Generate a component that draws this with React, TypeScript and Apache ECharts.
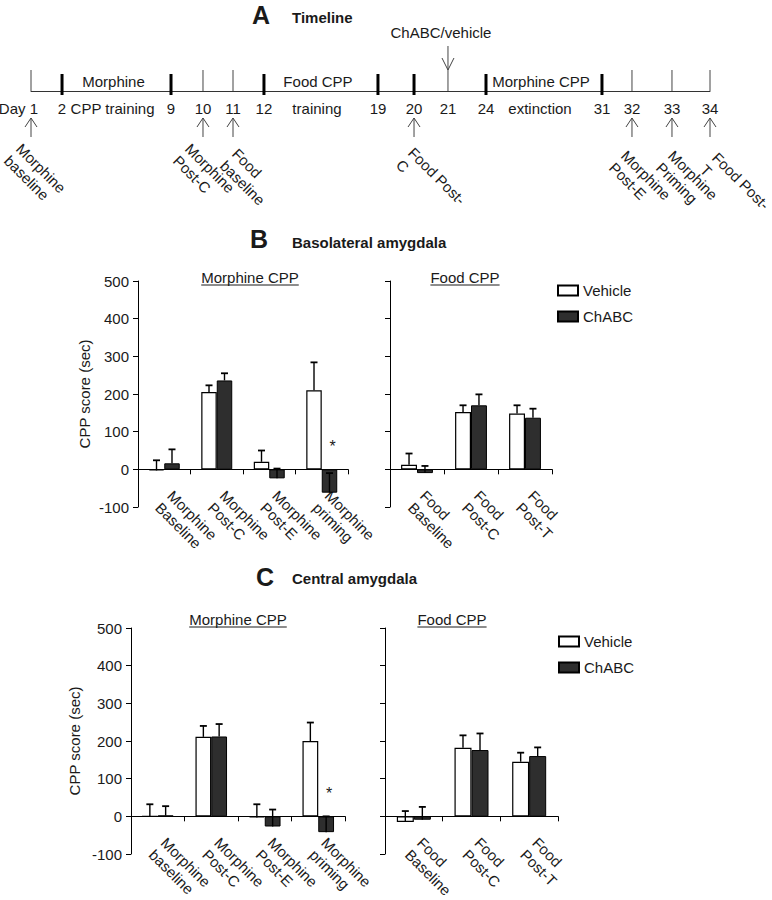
import React, { useEffect, useRef } from 'react';
import * as echarts from 'echarts';

const FONT = "'Liberation Sans', Arial, Helvetica, sans-serif";
const INK = '#1a1a1a';

// ---------------- Panel A: timeline ----------------
const tlDays = [1, 2, 9, 10, 11, 12, 19, 20, 21, 24, 31, 32, 33, 34];
// schematic position of each day along the drawn timeline (0 = day 1, 100 = day 34)
const tlPos = [0, 4.57, 20.62, 25.33, 29.75, 34.31, 51.1, 56.41, 61.41, 67.01, 84.09, 88.51, 94.4, 100];
const tlMajorDays = [2, 9, 12, 19, 20, 24, 31];
const tlTestDays = [1, 10, 11, 20, 32, 33, 34];
const tlTestLabels = [
  'Morphine\nbaseline',
  'Morphine\nPost-C',
  'Food\nbaseline',
  'Food Post-\nC',
  'Morphine\nPost-E',
  'Morphine\nPriming',
  'Food Post-\nT',
];
const tlInjectionDay = 21;
const tlInjectionLabel = 'ChABC/vehicle';
const tlPhaseStart = [2, 12, 24];
const tlPhaseEnd = [9, 19, 31];
const tlPhaseAbove = ['Morphine', 'Food CPP', 'Morphine CPP'];
const tlPhaseBelow = ['CPP training', 'training', 'extinction'];

// ---------------- Panel B: basolateral amygdala ----------------
const bMorphCats = ['Morphine\nBaseline', 'Morphine\nPost-C', 'Morphine\nPost-E', 'Morphine\npriming'];
const bMorphVehicle = [-3, 205, 20, 210];
const bMorphVehicleSem = [27, 18, 30, 74];
const bMorphChABC = [16, 236, -24, -62];
const bMorphChABCSem = [37, 19, 26, 52];
const bMorphSig = [null, null, null, 60];

const bFoodCats = ['Food\nBaseline', 'Food\nPost-C', 'Food\nPost-T'];
const bFoodVehicle = [12, 152, 148];
const bFoodVehicleSem = [30, 18, 22];
const bFoodChABC = [-10, 170, 137];
const bFoodChABCSem = [19, 29, 24];

// ---------------- Panel C: central amygdala ----------------
const cMorphCats = ['Morphine\nbaseline', 'Morphine\nPost-C', 'Morphine\nPost-E', 'Morphine\npriming'];
const cMorphVehicle = [0, 211, -3, 200];
const cMorphVehicleSem = [32, 29, 35, 49];
const cMorphChABC = [2, 212, -27, -42];
const cMorphChABCSem = [25, 33, 45, 42];
const cMorphSig = [null, null, null, 60];

const cFoodCats = ['Food\nBaseline', 'Food\nPost-C', 'Food\nPost-T'];
const cFoodVehicle = [-15, 182, 145];
const cFoodVehicleSem = [29, 33, 24];
const cFoodChABC = [-9, 176, 160];
const cFoodChABCSem = [34, 44, 23];

const groupNames = ['Vehicle', 'ChABC'];
const yMin = -100;
const yMax = 500;
const yStep = 100;
const yName = 'CPP score (sec)';

// ---------------- layout (not data) ----------------
const BAR_GAP = 0.41;
const EVENT_LABEL_OFFSET = [
  [-6, 49], [-9, 49], [8, 54], [3, 53], [-2, 56], [5, 56], [11, 58],
];

type Panel = {
  grid: any;
  cats: string[];
  veh: number[];
  vehSem: number[];
  cha: number[];
  chaSem: number[];
  sig: (number | null)[] | null;
  showY: boolean;
  nameGap: number;
};

const panels: Panel[] = [
  { grid: { left: 138, top: 281, width: 210, height: 226 }, cats: bMorphCats, veh: bMorphVehicle, vehSem: bMorphVehicleSem, cha: bMorphChABC, chaSem: bMorphChABCSem, sig: bMorphSig, showY: true, nameGap: 46 },
  { grid: { left: 390, top: 281, width: 162, height: 226 }, cats: bFoodCats, veh: bFoodVehicle, vehSem: bFoodVehicleSem, cha: bFoodChABC, chaSem: bFoodChABCSem, sig: null, showY: false, nameGap: 0 },
  { grid: { left: 131, top: 628, width: 214, height: 226 }, cats: cMorphCats, veh: cMorphVehicle, vehSem: cMorphVehicleSem, cha: cMorphChABC, chaSem: cMorphChABCSem, sig: cMorphSig, showY: true, nameGap: 49 },
  { grid: { left: 385, top: 628, width: 173, height: 226 }, cats: cFoodCats, veh: cFoodVehicle, vehSem: cFoodVehicleSem, cha: cFoodChABC, chaSem: cFoodChABCSem, sig: null, showY: false, nameGap: 0 },
];

const titles = [
  { text: 'Morphine CPP', x: 250, y: 277 },
  { text: 'Food CPP', x: 465, y: 277 },
  { text: 'Morphine CPP', x: 238, y: 619 },
  { text: 'Food CPP', x: 452, y: 619 },
];

function textEl(text: string, x: number, y: number, o: any = {}) {
  const align = o.align || 'center';
  const vAlign = o.vAlign || 'middle';
  return {
    type: 'text',
    x,
    y,
    rotation: o.rotation || 0,
    silent: true,
    style: {
      text,
      fill: INK,
      fontSize: o.size || 15,
      fontFamily: FONT,
      fontWeight: o.weight || 'normal',
      align,
      verticalAlign: vAlign,
      textAlign: align,
      textVerticalAlign: vAlign,
      lineHeight: 17,
    },
  };
}

function lineEl(x1: number, y1: number, x2: number, y2: number, w = 1, c = '#333') {
  return { type: 'line', silent: true, shape: { x1, y1, x2, y2 }, style: { stroke: c, lineWidth: w } };
}

function polyEl(points: number[][], w = 1, c = '#333') {
  return { type: 'polyline', silent: true, shape: { points }, style: { stroke: c, lineWidth: w, fill: null } };
}

function measure(text: string, font: string) {
  const ctx = document.createElement('canvas').getContext('2d')!;
  ctx.font = font;
  return ctx.measureText(text).width;
}

function buildOption() {
  const grids: any[] = panels.map((p) => ({ ...p.grid, containLabel: false, outerBoundsMode: 'none' }));
  grids.push({ left: 31, top: 60, width: 679, height: 31, containLabel: false, outerBoundsMode: 'none' });
  const tlIdx = panels.length;

  const xAxes: any[] = panels.map((p, k) => ({
    type: 'category',
    gridIndex: k,
    data: p.cats,
    axisLine: { onZero: true, lineStyle: { color: '#000', width: 1 } },
    axisTick: { show: true, length: 5, lineStyle: { color: '#000' } },
    axisLabel: {
      interval: 0,
      rotate: -45,
      margin: -8,
      padding: [30, 0, 0, 0],
      fontSize: 15,
      fontFamily: FONT,
      color: INK,
      lineHeight: 17,
      hideOverlap: false,
    },
    splitLine: { show: false },
  }));
  xAxes.push({
    type: 'value',
    gridIndex: tlIdx,
    min: 0,
    max: 100,
    axisLine: { show: true, onZero: false, lineStyle: { color: '#333', width: 1 } },
    axisTick: { show: false },
    axisLabel: { show: false },
    splitLine: { show: false },
  });

  const yAxes: any[] = panels.map((p, k) => ({
    type: 'value',
    gridIndex: k,
    min: yMin,
    max: yMax,
    interval: yStep,
    name: p.showY ? yName : '',
    nameLocation: 'middle',
    nameGap: p.nameGap,
    nameTextStyle: { fontSize: 15, fontFamily: FONT, color: INK },
    axisLine: { show: true, lineStyle: { color: '#000', width: 1 } },
    axisTick: { show: true, length: 5, lineStyle: { color: '#000' } },
    axisLabel: { show: p.showY, margin: 9, fontSize: 15, fontFamily: FONT, color: INK },
    splitLine: { show: false },
  }));
  yAxes.push({ type: 'value', gridIndex: tlIdx, min: 0, max: 1, show: false });

  const series: any[] = [];
  panels.forEach((p, k) => {
    series.push({
      type: 'bar',
      name: groupNames[0],
      xAxisIndex: k,
      yAxisIndex: k,
      data: p.veh,
      barGap: '0%',
      barCategoryGap: BAR_GAP * 100 + '%',
      itemStyle: { color: '#ffffff', borderColor: '#000', borderWidth: 1.2 },
    });
    series.push({
      type: 'bar',
      name: groupNames[1],
      xAxisIndex: k,
      yAxisIndex: k,
      data: p.cha,
      barGap: '0%',
      barCategoryGap: BAR_GAP * 100 + '%',
      itemStyle: { color: '#2e2e2e', borderColor: '#000', borderWidth: 1 },
    });
    const errData: number[][] = [];
    p.cats.forEach((_, i) => {
      errData.push([i, 0, p.veh[i], p.vehSem[i]]);
      errData.push([i, 1, p.cha[i], p.chaSem[i]]);
    });
    series.push({
      type: 'custom',
      name: 'sem',
      xAxisIndex: k,
      yAxisIndex: k,
      z: 5,
      silent: true,
      encode: { x: 0, y: 2 },
      data: errData,
      renderItem: (params: any, api: any) => {
        const cat = api.value(0);
        const s = api.value(1);
        const m = api.value(2);
        const e = api.value(3);
        const band = api.size([1, 0])[0];
        const bw = (band * (1 - BAR_GAP)) / 2;
        const p0 = api.coord([cat, m]);
        const p1 = api.coord([cat, m + e]);
        const x = p0[0] + (s === 0 ? -bw / 2 : bw / 2);
        return {
          type: 'group',
          children: [
            lineEl(x, p0[1], x, p1[1], 1.4, '#000'),
            lineEl(x - 3.5, p1[1], x + 3.5, p1[1], 1.8, '#000'),
          ],
        };
      },
    });
    if (p.sig) {
      const sigData: number[][] = [];
      p.sig.forEach((v, i) => {
        if (v !== null) sigData.push([i, v]);
      });
      series.push({
        type: 'custom',
        name: 'sig',
        xAxisIndex: k,
        yAxisIndex: k,
        z: 6,
        silent: true,
        encode: { x: 0, y: 1 },
        data: sigData,
        renderItem: (params: any, api: any) => {
          const band = api.size([1, 0])[0];
          const bw = (band * (1 - BAR_GAP)) / 2;
          const pt = api.coord([api.value(0), api.value(1)]);
          return textEl('*', pt[0] + bw / 2 + 3, pt[1], { size: 16 });
        },
      });
    }
  });

  // timeline ticks, day numbers, test arrows, injection
  series.push({
    type: 'custom',
    name: 'timeline',
    xAxisIndex: tlIdx,
    yAxisIndex: tlIdx,
    silent: true,
    encode: { x: 0, y: 1 },
    data: tlDays.map((_, i) => [tlPos[i], 0]),
    renderItem: (params: any, api: any) => {
      const i = params.dataIndex;
      const day = tlDays[i];
      const pt = api.coord([api.value(0), 0]);
      const x = pt[0];
      const y = pt[1];
      const children: any[] = [];
      const major = tlMajorDays.indexOf(day) >= 0;
      if (major) children.push(lineEl(x, y - 17, x, y + 4, 3, '#000'));
      else children.push(lineEl(x, y - 21, x, y, 1, '#444'));
      if (i === 0) children.push(textEl('Day ' + day, x + 7, y + 17, { align: 'right' }));
      else children.push(textEl(String(day), x, y + 17));
      const ti = tlTestDays.indexOf(day);
      if (ti >= 0) {
        children.push(lineEl(x, y + 27, x, y + 46, 1, '#444'));
        children.push(polyEl([[x - 6, y + 36], [x, y + 27], [x + 6, y + 36]], 1, '#444'));
        const off = EVENT_LABEL_OFFSET[ti];
        children.push(textEl(tlTestLabels[ti], x + off[0], y + off[1], { align: 'left', vAlign: 'top', rotation: -Math.PI / 4 }));
      }
      if (day === tlInjectionDay) {
        children.push(lineEl(x, y - 45, x, y - 21, 1, '#444'));
        children.push(polyEl([[x - 6, y - 33], [x, y - 21], [x + 6, y - 33]], 1, '#444'));
        children.push(textEl(tlInjectionLabel, x - 7, y - 59));
      }
      return { type: 'group', children };
    },
  });

  // timeline phase labels
  series.push({
    type: 'custom',
    name: 'phases',
    xAxisIndex: tlIdx,
    yAxisIndex: tlIdx,
    silent: true,
    encode: { x: [0, 1], y: 2 },
    data: tlPhaseStart.map((d, i) => [tlPos[tlDays.indexOf(d)], tlPos[tlDays.indexOf(tlPhaseEnd[i])], 0]),
    renderItem: (params: any, api: any) => {
      const i = params.dataIndex;
      const a = api.coord([api.value(0), 0]);
      const b = api.coord([api.value(1), 0]);
      const mid = (a[0] + b[0]) / 2;
      return {
        type: 'group',
        children: [
          textEl(tlPhaseAbove[i], mid - 3, a[1] - 10),
          textEl(tlPhaseBelow[i], mid - 4, a[1] + 17),
        ],
      };
    },
  });

  const titleFont = "15px 'Liberation Sans', Arial, sans-serif";
  const graphic: any[] = [
    textEl('A', 261, 15, { size: 25, weight: 'bold' }),
    textEl('Timeline', 292, 17, { align: 'left', weight: 'bold' }),
    textEl('B', 259, 239, { size: 25, weight: 'bold' }),
    textEl('Basolateral amygdala', 292, 242, { align: 'left', weight: 'bold' }),
    textEl('C', 265, 577, { size: 25, weight: 'bold' }),
    textEl('Central amygdala', 292, 578, { align: 'left', weight: 'bold' }),
  ];
  titles.forEach((t) => {
    const w = measure(t.text, titleFont);
    graphic.push(textEl(t.text, t.x, t.y));
    graphic.push(lineEl(t.x - w / 2, t.y + 8, t.x + w / 2, t.y + 8, 1, INK));
  });

  const legendBase = {
    data: groupNames,
    orient: 'vertical',
    icon: 'rect',
    itemWidth: 20,
    itemHeight: 10,
    itemGap: 11,
    selectedMode: false,
    textStyle: { fontSize: 15, fontFamily: FONT, color: INK },
  };

  return {
    animation: false,
    backgroundColor: '#ffffff',
    textStyle: { fontFamily: FONT },
    grid: grids,
    xAxis: xAxes,
    yAxis: yAxes,
    series,
    legend: [
      { ...legendBase, left: 552, top: 278 },
      { ...legendBase, left: 553, top: 629 },
    ],
    graphic: { elements: graphic },
  };
}

export default function App() {
  const ref = useRef<HTMLDivElement>(null);
  useEffect(() => {
    if (!ref.current) return;
    const chart = echarts.init(ref.current, undefined, { renderer: 'svg' });
    chart.setOption(buildOption() as any);
    return () => chart.dispose();
  }, []);
  return (
    <div
      ref={ref}
      style={{ position: 'absolute', left: 0, top: 0, width: 772, height: 900, background: '#fff' }}
    />
  );
}
